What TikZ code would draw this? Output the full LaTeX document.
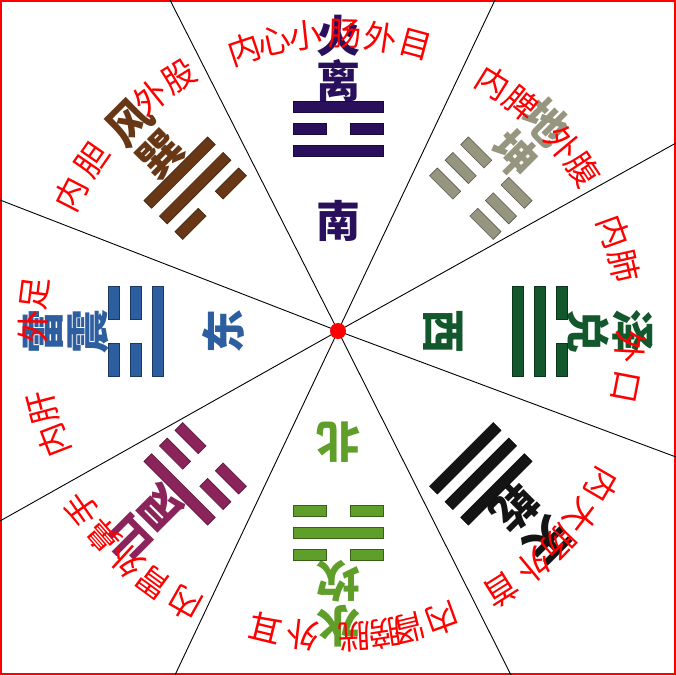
\documentclass[tikz,border=0pt]{standalone}
\usepackage{fontspec}
\newfontfamily\cjk{Noto Sans CJK SC}
\definecolor{licol}{RGB}{42,16,92}
\definecolor{kuncol}{RGB}{150,150,128}
\definecolor{duicol}{RGB}{18,88,44}
\definecolor{qiancol}{RGB}{20,20,20}
\definecolor{kancol}{RGB}{96,158,42}
\definecolor{gencol}{RGB}{140,36,92}
\definecolor{zhencol}{RGB}{44,94,160}
\definecolor{xuncol}{RGB}{104,56,22}

\begin{document}
\begin{tikzpicture}[x=1pt, y=1pt,
  guaname/.style={font=\cjk\bfseries\fontsize{44}{44}\selectfont, inner sep=0pt},
  organ/.style={font=\cjk\fontsize{33}{33}\selectfont, text=red, inner sep=0pt},
  sector/.style={line width=0.9pt, black}]
  \useasboundingbox (-338,-344) rectangle (338,331);
  \draw[red, line width=1.5pt] (-337.2,-343.2) rectangle (337.2,330.2);

  % sector borders
  \coordinate (b1) at (-168,331);
  \coordinate (b2) at (157,331);
  \coordinate (b3) at (338,188);
  \coordinate (b4) at (338,-126);
  \coordinate (b5) at (173,-344);
  \coordinate (b6) at (-163,-344);
  \coordinate (b7) at (-338,-190);
  \coordinate (b8) at (-338,131);
  \coordinate (c) at (0,0);
  \foreach \b in {b1,b2,b3,b4,b5,b6,b7,b8}
    \draw[sector] (c) -- (\b);

  % trigrams: angle/element/name/colour/inner/middle/outer line
  \foreach \p/\el/\nm/\col/\ya/\yb/\yc [count=\i] in
    {90/火/离/licol/1/0/1, 45/地/坤/kuncol/0/0/0, 0/泽/兑/duicol/1/1/0,
     -45/天/乾/qiancol/1/1/1, -90/水/坎/kancol/0/1/0, -135/山/艮/gencol/0/0/1,
     180/雷/震/zhencol/1/0/0, 135/风/巽/xuncol/0/1/1} {
    \node[guaname, text=\col, rotate=\p-90] (el-\i) at (\p:295) {\el};
    \node[guaname, text=\col, rotate=\p-90] (gua-\i) at (\p:250) {\nm};
    \begin{scope}[rotate=\p-90]
      \foreach \r/\k in {180/\ya,202/\yb,224/\yc} {
        \ifnum\k=1
          \filldraw[fill=\col, draw=\col!60!black, line width=0.6pt] (-45,\r-5.5) rectangle (45,\r+5.5);
        \else
          \filldraw[fill=\col, draw=\col!60!black, line width=0.6pt] (-45,\r-5.5) rectangle (-12,\r+5.5)
            (12,\r-5.5) rectangle (45,\r+5.5);
        \fi
      }
    \end{scope}
  }

  % directions
  \node[guaname, text=licol] (nan) at (90:110) {南};
  \node[guaname, text=duicol, rotate=-90] (xi) at (0:105) {西};
  \node[guaname, text=kancol, rotate=180] (bei) at (-90:111) {北};
  \node[guaname, text=zhencol, rotate=90] (dong) at (180:115) {东};

  % organs
  \foreach \a/\t [count=\i] in {108.4/内,102.4/心,96.2/小,88.6/肠,81.7/外,74.9/目}
    \node[organ, rotate=\a-90] (li-\i) at (\a:297) {\t};
  \foreach \a/\t [count=\i] in {58.1/内,51.2/脾,40.0/外,33.4/腹}
    \node[organ, rotate=\a-90] (kun-\i) at (\a:293) {\t};
  \foreach \a/\t [count=\i] in {19.9/内,12.8/肺,-3.1/外,-10.9/口}
    \node[organ, rotate=\a-90] (dui-\i) at (\a:293) {\t};
  \foreach \a/\t [count=\i] in {-30.3/内,-37.2/大,-43.7/肠,-50.2/外,-57.7/首}
    \node[organ, rotate=\a-90] (qian-\i) at (\a:306) {\t};
  \foreach \a/\t [count=\i] in {-70/内,-76.5/肾,-81.2/膀,-86.8/胱,-96.6/外,-103.7/耳}
    \node[organ, rotate=\a-90] (kan-\i) at (\a:306) {\t};
  \foreach \a/\t [count=\i] in {-119.4/内,-126.3/胃,-132.5/外,-138.9/鼻,-145.2/手}
    \node[organ, rotate=\a-90] (gen-\i) at (\a:312) {\t};
  \foreach \a/\t [count=\i] in {201.1/内,194.6/肝,179.3/外,172.9/足}
    \node[organ, rotate=\a-90] (zhen-\i) at (\a:305) {\t};
  \foreach \a/\t [count=\i] in {152.8/内,145.2/胆,128.8/外,121.9/股}
    \node[organ, rotate=\a-90] (xun-\i) at (\a:300) {\t};

  \node[circle, fill=red, minimum size=16pt, inner sep=0pt] (o) at (c) {};
\end{tikzpicture}
\end{document}
